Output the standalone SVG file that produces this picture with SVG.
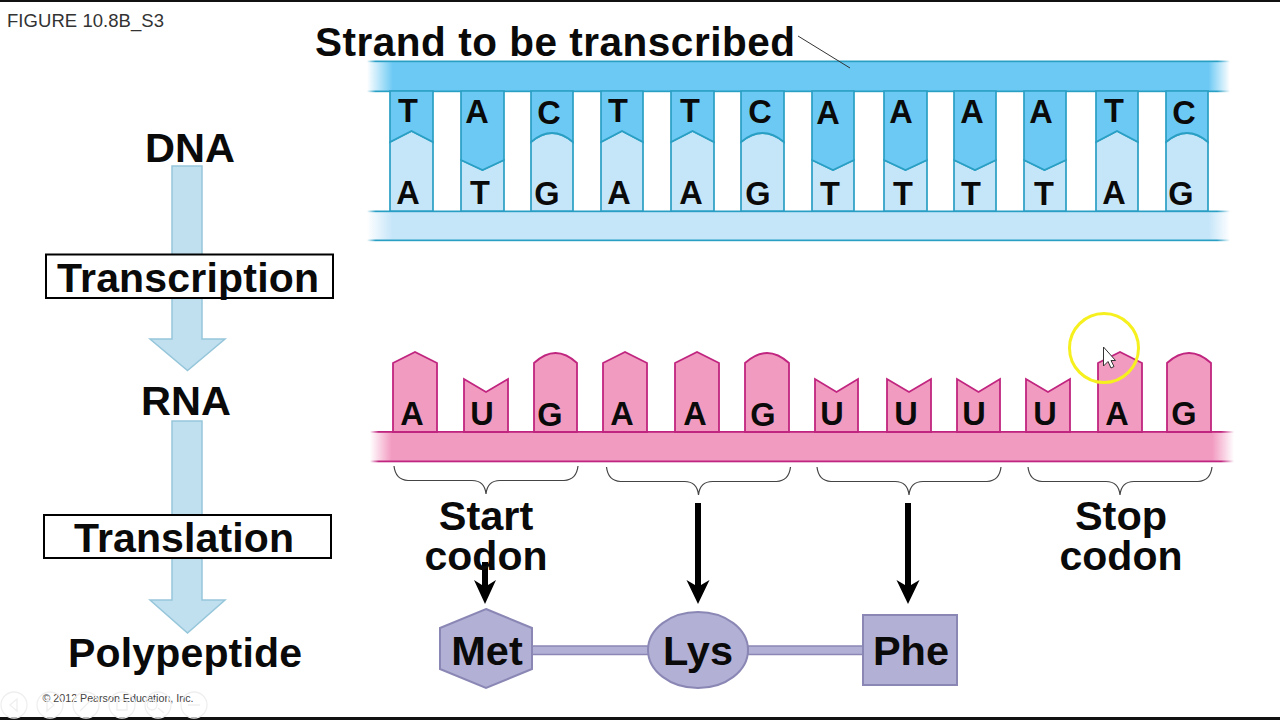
<svg xmlns="http://www.w3.org/2000/svg" width="1280" height="720" viewBox="0 0 1280 720">
<style>
text{font-family:"Liberation Sans",Arial,sans-serif;fill:#0a0a0a;font-weight:bold;text-anchor:middle}
.l{font-size:32.500px}
.t{fill:#6cc9f4;stroke:#2a9fc4;stroke-width:1.700}
.b{fill:#c5e5f9;stroke:#2a9fc4;stroke-width:1.700}
.r{fill:#f29bc1;stroke:#c0257f;stroke-width:1.800}
.flow{fill:#c0e0f0;stroke:#96c6da;stroke-width:1.500}
.h{font-size:41.500px}
.m{font-size:41px}
.box{fill:#fff;stroke:#000;stroke-width:2}
.brace{fill:none;stroke:#444;stroke-width:1.200}
.aa{fill:#b3b0d6;stroke:#8a87b5;stroke-width:2}
.ctl{fill:none;stroke:#efefef;stroke-width:1.300}
</style>
<defs>
<linearGradient id="gT"><stop offset="0" stop-color="#6cc9f4" stop-opacity="0"/><stop offset=".03" stop-color="#6cc9f4"/><stop offset=".975" stop-color="#6cc9f4"/><stop offset="1" stop-color="#6cc9f4" stop-opacity="0"/></linearGradient>
<linearGradient id="gB"><stop offset="0" stop-color="#c5e5f9" stop-opacity="0"/><stop offset=".03" stop-color="#c5e5f9"/><stop offset=".975" stop-color="#c5e5f9"/><stop offset="1" stop-color="#c5e5f9" stop-opacity="0"/></linearGradient>
<linearGradient id="gR"><stop offset="0" stop-color="#f29bc1" stop-opacity="0"/><stop offset=".025" stop-color="#f29bc1"/><stop offset=".975" stop-color="#f29bc1"/><stop offset="1" stop-color="#f29bc1" stop-opacity="0"/></linearGradient>
<linearGradient id="sD"><stop offset="0" stop-color="#2a9fc4" stop-opacity="0"/><stop offset=".01" stop-color="#2a9fc4"/><stop offset=".985" stop-color="#2a9fc4"/><stop offset="1" stop-color="#2a9fc4" stop-opacity="0"/></linearGradient>
<linearGradient id="sR"><stop offset="0" stop-color="#c0257f" stop-opacity="0"/><stop offset=".01" stop-color="#c0257f"/><stop offset=".985" stop-color="#c0257f"/><stop offset="1" stop-color="#c0257f" stop-opacity="0"/></linearGradient>
<path id="brace" class="brace" d="M0 0C1 9 5 14 14 14.500H78C86 14.500 91 18 92 28C93 18 98 14.500 106 14.500H170C179 14 183 9 184 0"/>
</defs>
<rect width="1280" height="720" fill="#fff"/>
<rect width="1280" height="2" fill="#111"/>
<rect y="717" width="1280" height="3" fill="#111"/>

<text x="7" y="27" style="font-size:18.500px;font-weight:normal;text-anchor:start;fill:#333" textLength="157">FIGURE 10.8B_S3</text>
<text x="315" y="56" style="font-size:40.500px;text-anchor:start" textLength="480">Strand to be transcribed</text>

<g id="dna-helix">
<rect x="367" y="61" width="863" height="30" fill="url(#gT)"/>
<rect x="367" y="211" width="863" height="29" fill="url(#gB)"/>
<rect x="367" y="60.500" width="863" height="1.700" fill="url(#sD)"/>
<rect x="367" y="90.500" width="863" height="1.700" fill="url(#sD)"/>
<rect x="367" y="210.500" width="863" height="1.700" fill="url(#sD)"/>
<rect x="367" y="239.500" width="863" height="1.700" fill="url(#sD)"/>
<path class="b" d="M390 211V142L411.500 131 433 142V211Z"/><path class="t" d="M390 91V142L411.500 131 433 142V91Z"/>
<path class="b" d="M461 211V160L482.500 170 504 160V211Z"/><path class="t" d="M461 91V160L482.500 170 504 160V91Z"/>
<path class="b" d="M531 211V142Q552 124 573 142V211Z"/><path class="t" d="M531 91V142Q552 124 573 142V91Z"/>
<path class="b" d="M601 211V142L622 131 643 142V211Z"/><path class="t" d="M601 91V142L622 131 643 142V91Z"/>
<path class="b" d="M671 211V142L692.500 131 714 142V211Z"/><path class="t" d="M671 91V142L692.500 131 714 142V91Z"/>
<path class="b" d="M741 211V142Q762.500 124 784 142V211Z"/><path class="t" d="M741 91V142Q762.500 124 784 142V91Z"/>
<path class="b" d="M812 211V160L833 170 854 160V211Z"/><path class="t" d="M812 91V160L833 170 854 160V91Z"/>
<path class="b" d="M884 211V160L905.500 170 927 160V211Z"/><path class="t" d="M884 91V160L905.500 170 927 160V91Z"/>
<path class="b" d="M954 211V160L975 170 996 160V211Z"/><path class="t" d="M954 91V160L975 170 996 160V91Z"/>
<path class="b" d="M1024 211V160L1044.500 170 1066 160V211Z"/><path class="t" d="M1024 91V160L1044.500 170 1066 160V91Z"/>
<path class="b" d="M1096 211V142L1117 131 1138 142V211Z"/><path class="t" d="M1096 91V142L1117 131 1138 142V91Z"/>
<path class="b" d="M1166 211V142Q1187 124 1208 142V211Z"/><path class="t" d="M1166 91V142Q1187 124 1208 142V91Z"/>
<g class="l">
<text x="408" y="122">T</text><text x="477" y="123">A</text><text x="549" y="124">C</text><text x="618" y="122">T</text><text x="690" y="122">T</text><text x="760" y="123">C</text><text x="828" y="124">A</text><text x="901" y="123">A</text><text x="972" y="123">A</text><text x="1041" y="123">A</text><text x="1114" y="122">T</text><text x="1184" y="124">C</text>
<text x="408" y="204">A</text><text x="480" y="204">T</text><text x="547" y="205">G</text><text x="619" y="204">A</text><text x="691" y="204">A</text><text x="758" y="205">G</text><text x="830" y="205">T</text><text x="903" y="205">T</text><text x="971" y="205">T</text><text x="1044" y="205">T</text><text x="1114" y="204">A</text><text x="1181" y="205">G</text>
</g>
</g>

<g id="rna-strand">
<rect x="370" y="432" width="864" height="29" fill="url(#gR)"/>
<path class="r" d="M393 432V363L415 352 437 363V432Z"/>
<path class="r" d="M464 432V379L486 392 508 379V432Z"/>
<path class="r" d="M534 432V363Q555.500 343 577 363V432Z"/>
<path class="r" d="M603 432V363L625 352 647 363V432Z"/>
<path class="r" d="M675 432V363L697 352 719 363V432Z"/>
<path class="r" d="M745 432V363Q767 343 789 363V432Z"/>
<path class="r" d="M815 432V379L836.500 392 858 379V432Z"/>
<path class="r" d="M887 432V379L909 392 931 379V432Z"/>
<path class="r" d="M957 432V379L978.500 392 1000 379V432Z"/>
<path class="r" d="M1026 432V379L1048 392 1070 379V432Z"/>
<path class="r" d="M1098 432V363L1120 352 1142 363V432Z"/>
<path class="r" d="M1167 432V363Q1189 343 1211 363V432Z"/>
<rect x="370" y="431" width="864" height="1.800" fill="url(#sR)"/>
<rect x="370" y="460.500" width="864" height="1.800" fill="url(#sR)"/>
<g class="l">
<text x="412" y="425">A</text><text x="482" y="425">U</text><text x="550" y="426">G</text><text x="622" y="425">A</text><text x="695" y="425">A</text><text x="763" y="426">G</text><text x="832" y="425">U</text><text x="906" y="425">U</text><text x="974" y="425">U</text><text x="1045" y="425">U</text><text x="1117" y="425">A</text><text x="1184" y="425">G</text>
</g>
</g>

<g id="codon-braces">
<use href="#brace" x="394" y="466"/><use href="#brace" x="606.500" y="467"/><use href="#brace" x="817" y="467"/><use href="#brace" x="1028" y="467"/>
</g>

<g id="connectors">
<path d="M798 36 850 68" fill="none" stroke="#333" stroke-width="1"/>
<path class="flow" d="M172 166H202V339H225L187.500 370.500 150 339H172Z"/>
<path class="flow" d="M172 421H202V600H225L187.500 633 150 600H172Z"/>
<path d="M482 562H488V585L496 580 485 604 474 580 482 585Z" fill="#000"/>
<path d="M695 503H701V585L709.500 580 698 604 686.500 580 695 585Z" fill="#000"/>
<path d="M905 503H911V585L919.500 580 908 604 896.500 580 905 585Z" fill="#000"/>
<rect x="532" y="646" width="117" height="8.500" fill="#b3b0d6" stroke="#8a87b5" stroke-width="1.500"/>
<rect x="748" y="646" width="115" height="8.500" fill="#b3b0d6" stroke="#8a87b5" stroke-width="1.500"/>
</g>

<g id="node-dna"><text class="h" x="190" y="162">DNA</text></g>
<g id="node-transcription"><rect class="box" x="46" y="254.500" width="287" height="43.500"/><text class="m" x="188" y="292" textLength="262">Transcription</text></g>
<g id="node-rna"><text class="h" x="186" y="415">RNA</text></g>
<g id="node-translation"><rect class="box" x="44" y="515" width="287" height="43"/><text x="184" y="552" class="m" textLength="220">Translation</text></g>
<g id="node-polypeptide"><text x="185" y="667" class="m" textLength="234">Polypeptide</text></g>
<g id="label-start"><text x="486" y="530" class="h">Start</text><text x="486" y="570" class="m" textLength="123">codon</text></g>
<g id="label-stop"><text x="1121" y="530" class="h">Stop</text><text x="1121" y="570" class="m" textLength="123">codon</text></g>
<g id="node-met"><path class="aa" d="M486 609 532 628V669L486 688 440 669V628Z"/><text x="487" y="665" class="h">Met</text></g>
<g id="node-lys"><ellipse class="aa" cx="698" cy="650" rx="50" ry="38"/><text x="698" y="665" class="h">Lys</text></g>
<g id="node-phe"><rect class="aa" x="863" y="615" width="94" height="70"/><text x="911" y="665" class="h">Phe</text></g>

<text x="118" y="702" style="font-size:10.700px;font-weight:normal;fill:#444">© 2012 Pearson Education, Inc.</text>

<g id="slide-controls" class="ctl">
<circle cx="14" cy="705" r="13"/><circle cx="50" cy="705" r="13"/><circle cx="86" cy="705" r="13"/><circle cx="122" cy="705" r="13"/><circle cx="158" cy="705" r="13"/><circle cx="194" cy="705" r="13"/>
<path d="M17 699 10 705 17 711ZM47 699 54 705 47 711ZM80 711 91 700M117 700H127V710H117ZM152 700a5 5 0 1 0 .1 0M158 708l6 5M188 705h12"/>
</g>

<g id="pointer">
<circle cx="1104" cy="348" r="34.500" fill="none" stroke="#f5f01e" stroke-width="3"/>
<path d="M1103.500 347V366L1108 361.500 1111 368 1114 366.500 1111 360.500H1115.500Z" fill="#fff" stroke="#333" stroke-width="1"/>
</g>
</svg>
